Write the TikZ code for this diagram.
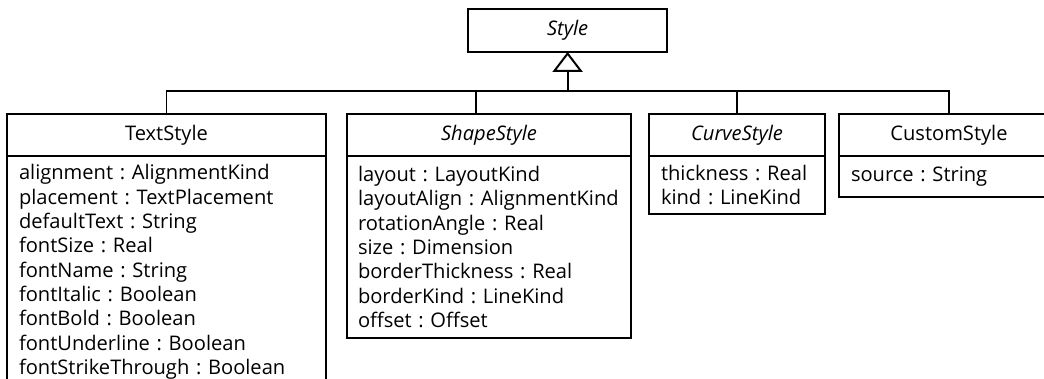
\documentclass[tikz,border=0pt]{standalone}
\usepackage{fontspec}
\setmainfont{Open Sans}
\usetikzlibrary{arrows.meta, positioning}
\frenchspacing
\hyphenpenalty=10000
\hbadness=10000
\hfuzz=5cm

\begin{document}
\begin{tikzpicture}[
    head/.style={draw, line width=1.4pt, outer sep=0pt, inner sep=0pt,
                 font=\fontsize{14.3}{17.3}\selectfont, minimum height=1.05cm},
    attrs/.style={draw, line width=1.4pt, outer sep=0pt, anchor=north west,
                  inner xsep=0.3cm, inner ysep=0pt, align=left,
                  font=\fontsize{14.3}{17.3}\selectfont},
    gen/.style={line width=1.4pt},
  ]
    \useasboundingbox (0,0) rectangle (26.1,-9.475);
    \clip (0,0) rectangle (26.1,-9.475);

    % super class
    \node[head, minimum width=4.975cm, minimum height=1.075cm,
          font=\fontsize{14.3}{17.3}\selectfont\itshape] (style) at (14.19,-0.76) {Style};

    % sub classes: headers
    \node[head, minimum width=7.975cm, anchor=north west] (text) at (0.175,-2.85) {TextStyle};
    \node[head, minimum width=7.1cm, anchor=north west,
          font=\fontsize{14.3}{17.3}\selectfont\itshape] (shape) at (8.675,-2.85) {ShapeStyle};
    \node[head, minimum width=4.4cm, anchor=north west,
          font=\fontsize{14.3}{17.3}\selectfont\itshape] (curve) at (16.225,-2.85) {CurveStyle};
    \node[head, minimum width=5.5cm, anchor=north west] (custom) at (20.975,-2.85) {CustomStyle};

    % sub classes: attributes
    \node[attrs, text width=7.375cm, minimum height=5.8cm] (textattr) at (text.south west)
      {alignment : AlignmentKind\\ placement : TextPlacement\\ defaultText : String\\
       fontSize : Real\\ fontName : String\\ fontItalic : Boolean\\ fontBold : Boolean\\
       fontUnderline : Boolean\\ fontStrikeThrough : Boolean};
    \node[attrs, inner xsep=0.275cm, text width=6.55cm, minimum height=4.55cm] (shapeattr) at (shape.south west)
      {layout : LayoutKind\\ layoutAlign : AlignmentKind\\ rotationAngle : Real\\
       size : Dimension\\ borderThickness : Real\\ borderKind : LineKind\\ offset : Offset};
    \node[attrs, text width=3.8cm, minimum height=1.45cm] (curveattr) at (curve.south west)
      {thickness : Real\\ kind : LineKind};
    \node[attrs, text width=4.9cm, minimum height=1.025cm] (customattr) at (custom.south west)
      {source : String};

    % generalization
    \coordinate (bar) at (style.south |- 0,-2.275);
    \draw[gen, -{Triangle[open, length=0.5cm, width=0.75cm]}] (bar) -- (style);
    \draw[gen] (text.north) |- (custom.north |- bar) -- (custom.north);
    \draw[gen] ([xshift=-0.325cm]shape.north) -- ([xshift=-0.325cm]shape.north |- bar);
    \draw[gen] (curve.north) -- (curve.north |- bar);
  \end{tikzpicture}
\end{document}
